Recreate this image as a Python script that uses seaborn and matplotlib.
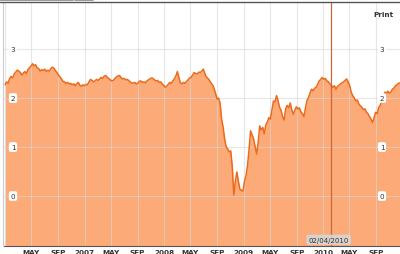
import matplotlib
matplotlib.use("Agg")
import matplotlib.pyplot as plt
import seaborn as sns
import pandas as pd

sns.set_theme(style="white")
plt.rcParams['font.family'] = ['DejaVu Sans']

# weekly observations, Jan 2006 .. Dec 2010
values_2006 = [
    2.27, 2.33, 2.30, 2.40, 2.44, 2.41, 2.49, 2.53, 2.57, 2.55, 2.52, 2.47, 2.51,
    2.54, 2.50, 2.58, 2.62, 2.65, 2.70, 2.66, 2.68, 2.62, 2.60, 2.55, 2.58, 2.56,
    2.59, 2.54, 2.57, 2.55, 2.60, 2.63, 2.61, 2.56, 2.52, 2.47, 2.43, 2.39, 2.34,
    2.33, 2.30, 2.32, 2.29, 2.30, 2.27, 2.29, 2.25, 2.29, 2.32, 2.26, 2.24, 2.27,
]
values_2007 = [
    2.25, 2.28, 2.27, 2.33, 2.38, 2.36, 2.33, 2.35, 2.38, 2.36, 2.39, 2.42, 2.40,
    2.45, 2.46, 2.42, 2.40, 2.37, 2.35, 2.36, 2.40, 2.43, 2.45, 2.46, 2.42, 2.39,
    2.40, 2.37, 2.38, 2.36, 2.33, 2.31, 2.30, 2.32, 2.29, 2.30, 2.34, 2.35, 2.32,
    2.33, 2.31, 2.35, 2.37, 2.39, 2.41, 2.40, 2.37, 2.35, 2.36, 2.32, 2.33, 2.29,
]
values_2008 = [
    2.26, 2.22, 2.24, 2.28, 2.32, 2.30, 2.35, 2.39, 2.45, 2.54, 2.42, 2.31, 2.29,
    2.32, 2.30, 2.34, 2.37, 2.41, 2.42, 2.47, 2.52, 2.50, 2.49, 2.53, 2.52, 2.55,
    2.59, 2.50, 2.43, 2.40, 2.36, 2.31, 2.27, 2.20, 2.10, 1.98, 2.00, 1.90, 1.57,
    1.40, 1.16, 1.00, 0.96, 0.90, 0.92, 0.60, 0.02, 0.30, 0.49, 0.30, 0.14, 0.12,
]
values_2009 = [
    0.10, 0.30, 0.41, 0.62, 0.95, 1.33, 1.25, 1.16, 1.00, 0.86, 1.10, 1.43, 1.35,
    1.40, 1.27, 1.45, 1.51, 1.60, 1.57, 1.75, 1.94, 1.92, 2.05, 1.95, 1.81, 1.75,
    1.62, 1.55, 1.78, 1.85, 1.80, 1.90, 1.76, 1.67, 1.75, 1.82, 1.78, 1.80, 1.72,
    1.68, 1.62, 1.80, 1.95, 2.01, 2.10, 2.18, 2.15, 2.20, 2.22, 2.28, 2.35, 2.38,
]
values_2010 = [
    2.42, 2.38, 2.40, 2.35, 2.33, 2.29, 2.26, 2.22, 2.25, 2.18, 2.24, 2.26, 2.29,
    2.31, 2.33, 2.36, 2.39, 2.33, 2.25, 2.12, 2.05, 2.00, 1.94, 1.96, 1.88, 1.84,
    1.81, 1.76, 1.78, 1.71, 1.68, 1.62, 1.57, 1.50, 1.60, 1.71, 1.68, 1.81, 1.85,
    1.94, 2.02, 2.12, 2.10, 2.14, 2.10, 2.12, 2.18, 2.20, 2.25, 2.27, 2.30, 2.31,
]
values = values_2006 + values_2007 + values_2008 + values_2009 + values_2010
dates = pd.date_range("2006-01-01", periods=len(values), freq="7D")
yticks = [0, 1, 2, 3]
tick_dates = pd.date_range("2006-05-01", "2010-09-01", freq="4MS")
tick_labels = [("MAY" if d.month == 5 else "SEP" if d.month == 9 else str(d.year)) for d in tick_dates]
marker_date = pd.Timestamp("2010-02-04")
marker_label = "02/04/2010"

df = pd.DataFrame({"date": dates, "value": values})

W, H = 400, 255
fig = plt.figure(figsize=(W / 100, H / 100), dpi=100)
ax = fig.add_axes([4 / W, (H - 247) / H, 396 / W, 244 / H])

fill_c = "#FCAA78"
line_c = "#EC6A1A"
ymin, ymax = -1.02, 3.96
ax.fill_between(df["date"], df["value"], ymin, color=fill_c, lw=0, zorder=1)
sns.lineplot(data=df, x="date", y="value", ax=ax, color=line_c, lw=1.1, zorder=3)

ax.set_ylim(ymin, ymax)
ax.set_xlim(pd.Timestamp("2005-12-27"), pd.Timestamp("2010-12-19"))

# grid lines over the fill
grid_dates = pd.date_range("2006-01-01", "2010-09-01", freq="4MS")
for d in grid_dates:
    ax.axvline(d, color="#d8d8d8", lw=0.8, alpha=0.6, zorder=2)
for v in yticks:
    ax.axhline(v, color="#d8d8d8", lw=0.8, alpha=0.6, zorder=2)

ax.axvline(marker_date, color="#C8693A", lw=0.9, zorder=4)

ax.set_xticks([])
ax.set_yticks([])
ax.set_xlabel("")
ax.set_ylabel("")
for s in ["left", "right", "top"]:
    ax.spines[s].set_visible(False)
ax.spines["bottom"].set_visible(True)
ax.spines["bottom"].set_color("#555555")
ax.spines["bottom"].set_linewidth(0.8)

# left gray edge line
fig.add_artist(plt.Line2D([3 / W, 3 / W], [(H - 247) / H, (H - 3) / H], color="#cccccc", lw=0.8))
# top dark line and cut-off tabs
fig.add_artist(plt.Line2D([0, 1], [(H - 3) / H, (H - 3) / H], color="#555555", lw=1.0))
fig.add_artist(plt.Line2D([0, 73 / W], [(H - 0.8) / H, (H - 0.8) / H], color="#888888", lw=1.2))
fig.add_artist(plt.Line2D([75 / W, 93 / W], [(H - 0.8) / H, (H - 0.8) / H], color="#888888", lw=1.2))

# x tick labels (clipped at bottom)
for d, lab in zip(tick_dates, tick_labels):
    ax.annotate(lab, xy=(d, 0), xycoords=("data", "axes fraction"),
                xytext=(0, -2), textcoords="offset points",
                ha="center", va="top", fontsize=5.2, color="#333333",
                fontweight="bold", annotation_clip=False)

# y labels inside plot, left and right, with white boxes
for v in yticks:
    for xf in (9 / 396, 378 / 396):
        ax.text(xf, v, str(v), transform=ax.get_yaxis_transform(),
                ha="center", va="center", fontsize=5.2, color="#333333",
                zorder=6,
                bbox=dict(boxstyle="round,pad=0.25", fc="white", ec="none"))

ax.annotate(marker_label, xy=(marker_date, 0), xycoords=("data", "axes fraction"),
            xytext=(-1.5, 4.5), textcoords="offset points",
            ha="center", va="center", fontsize=5.0, color="#333333", zorder=7,
            annotation_clip=False,
            bbox=dict(boxstyle="round,pad=0.3", fc="#d6d6d6", ec="none", alpha=0.9))

fig.text(383 / W, (H - 15) / H, "Print", ha="center", va="center",
         fontsize=5.2, fontweight="bold", color="#333333")

fig.savefig("out.png", dpi=100)
